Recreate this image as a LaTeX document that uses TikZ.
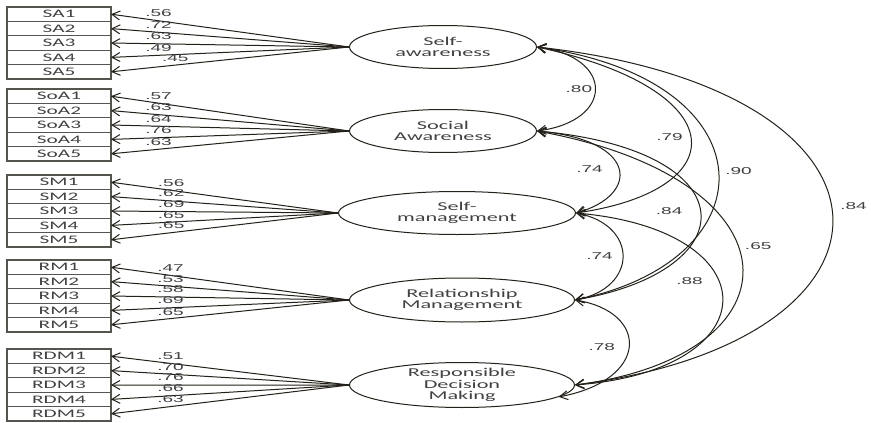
\documentclass[tikz,border=0pt]{standalone}
\usepackage{fontspec}
\setmainfont{Carlito}[FakeStretch=1.85]
\newfontfamily\numfont{Liberation Sans}[FakeStretch=1.9]
\usetikzlibrary{arrows.meta, positioning, shapes.geometric}
\definecolor{SemLine}{RGB}{35, 33, 25}
\definecolor{SemFrame}{RGB}{85, 85, 80}
\definecolor{SemText}{RGB}{65, 65, 65}
\tikzset{
  ind/.style={rectangle, draw=SemFrame, line width=1.2pt, fill=white,
              minimum width=104pt, minimum height=14.4pt, inner sep=0pt, outer sep=0pt,
              font=\fontsize{11.5}{11.5}\selectfont, text=SemText},
  lat/.style={ellipse, draw=SemLine, line width=1pt, minimum width=#1,
              minimum height=43pt, inner sep=0pt, align=center,
              font=\fontsize{12}{11.5}\selectfont, text=SemText},
  ld/.style={-{Straight Barb[length=8pt, width=9pt]}, line width=1pt, color=SemLine},
  cov/.style={{Straight Barb[length=8pt, width=9pt]}-{Straight Barb[length=8pt, width=9pt]},
              line width=1pt, color=SemLine},
  coef/.style={font={\numfont\fontsize{10}{10}\selectfont}, text=SemText, inner sep=1.5pt},
}
\begin{document}
\begin{tikzpicture}[x=1pt, y=-1pt]
  \useasboundingbox[fill=white] (0,0) rectangle (871,423);

  % indicators
  \node[ind, anchor=north] (sa1) at (59,7) {SA1};
  \node[ind, below=0pt of sa1] (sa2) {SA2};
  \node[ind, below=0pt of sa2] (sa3) {SA3};
  \node[ind, below=0pt of sa3] (sa4) {SA4};
  \node[ind, below=0pt of sa4] (sa5) {SA5};

  \node[ind, anchor=north] (soa1) at (59,89) {SoA1};
  \node[ind, below=0pt of soa1] (soa2) {SoA2};
  \node[ind, below=0pt of soa2] (soa3) {SoA3};
  \node[ind, below=0pt of soa3] (soa4) {SoA4};
  \node[ind, below=0pt of soa4] (soa5) {SoA5};

  \node[ind, anchor=north] (sm1) at (59,175) {SM1};
  \node[ind, below=0pt of sm1] (sm2) {SM2};
  \node[ind, below=0pt of sm2] (sm3) {SM3};
  \node[ind, below=0pt of sm3] (sm4) {SM4};
  \node[ind, below=0pt of sm4] (sm5) {SM5};

  \node[ind, anchor=north] (rm1) at (59,260) {RM1};
  \node[ind, below=0pt of rm1] (rm2) {RM2};
  \node[ind, below=0pt of rm2] (rm3) {RM3};
  \node[ind, below=0pt of rm3] (rm4) {RM4};
  \node[ind, below=0pt of rm4] (rm5) {RM5};

  \node[ind, anchor=north] (rdm1) at (59,349) {RDM1};
  \node[ind, below=0pt of rdm1] (rdm2) {RDM2};
  \node[ind, below=0pt of rdm2] (rdm3) {RDM3};
  \node[ind, below=0pt of rdm3] (rdm4) {RDM4};
  \node[ind, below=0pt of rdm4] (rdm5) {RDM5};

  % latent factors
  \node[lat=187pt] (selfaw) at (443,47)  {Self-\\awareness};
  \node[lat=187pt] (socaw)  at (443,131) {Social\\Awareness};
  \node[lat=237pt] (selfmg) at (457,213) {Self-\\management};
  \node[lat=225pt, minimum height=44pt] (relmg) at (462,300) {Relationship\\Management};
  \node[lat=225pt, minimum height=45pt, inner ysep=-2.5pt] (resdec) at (462,385)
       {Responsible\\Decision\\Making};

  % loadings
  \draw[ld] (selfaw.west) -- node[coef, pos=.8, above=2pt] {.56} (sa1.east);
  \draw[ld] (selfaw.west) -- node[coef, pos=.8, above=2pt] {.72} (sa2.east);
  \draw[ld] (selfaw.west) -- node[coef, pos=.8, above=2pt] {.63} (sa3.east);
  \draw[ld] (selfaw.west) -- node[coef, pos=.8, above=2pt] {.49} (sa4.east);
  \draw[ld] (selfaw.west) -- node[coef, pos=.73, above=2pt] {.45} (sa5.east);

  \draw[ld] (socaw.west) -- node[coef, pos=.8, above=2pt] {.57} (soa1.east);
  \draw[ld] (socaw.west) -- node[coef, pos=.8, above=2pt] {.63} (soa2.east);
  \draw[ld] (socaw.west) -- node[coef, pos=.8, above=2pt] {.64} (soa3.east);
  \draw[ld] (socaw.west) -- node[coef, pos=.8, above=2pt] {.76} (soa4.east);
  \draw[ld] (socaw.west) -- node[coef, pos=.8, above=2pt] {.63} (soa5.east);

  \draw[ld] (selfmg.west) -- node[coef, pos=.735, above=2pt] {.56} (sm1.east);
  \draw[ld] (selfmg.west) -- node[coef, pos=.735, above=2pt] {.62} (sm2.east);
  \draw[ld] (selfmg.west) -- node[coef, pos=.735, above=2pt] {.69} (sm3.east);
  \draw[ld] (selfmg.west) -- node[coef, pos=.735, above=2pt] {.65} (sm4.east);
  \draw[ld] (selfmg.west) -- node[coef, pos=.735, above=2pt] {.65} (sm5.east);

  \draw[ld] (relmg.west) -- node[coef, pos=.75, above=2pt] {.47} (rm1.east);
  \draw[ld] (relmg.west) -- node[coef, pos=.75, above=2pt] {.53} (rm2.east);
  \draw[ld] (relmg.west) -- node[coef, pos=.75, above=2pt] {.58} (rm3.east);
  \draw[ld] (relmg.west) -- node[coef, pos=.75, above=2pt] {.69} (rm4.east);
  \draw[ld] (relmg.west) -- node[coef, pos=.75, above=1pt] {.65} (rm5.east);

  \draw[ld] (resdec.west) -- node[coef, pos=.75, above=2pt] {.51} (rdm1.east);
  \draw[ld] (resdec.west) -- node[coef, pos=.75, above=2pt] {.70} (rdm2.east);
  \draw[ld] (resdec.west) -- node[coef, pos=.75, above=2pt] {.76} (rdm3.east);
  \draw[ld] (resdec.west) -- node[coef, pos=.75, above=2pt] {.66} (rdm4.east);
  \draw[ld] (resdec.west) -- node[coef, pos=.75, above=2pt] {.63} (rdm5.east);

  % correlations
  \draw[cov] (selfaw.east) .. controls +(77.5,10) and +(77.5,-10) .. node[coef, pos=.5, left=1pt] {.80} (socaw.east);
  \draw[cov] (socaw.east) .. controls +(102,9) and +(64,-18) .. node[coef, pos=.5, left=14pt] {.74} (selfmg.east);
  \draw[cov] (selfmg.east) .. controls +(62.5,12) and +(63.5,-12) .. node[coef, pos=.5, left=8pt] {.74} (relmg.east);
  \draw[cov] (relmg.east) .. controls +(74.5,12) and +(91,-17) .. node[coef, pos=.5, left=12pt] {.78} (resdec.-7);
  \draw[cov] (selfaw.east) .. controls +(198.5,43) and +(159.5,-23) .. node[coef, pos=.5, left=6pt] {.79} (selfmg.east);
  \draw[cov] (selfaw.east) .. controls +(235.5,33) and +(197.5,-40) .. node[coef, pos=.5, right=5pt] {.90} (relmg.east);
  \draw[cov] (selfaw.east) .. controls +(387.5,43) and +(349.5,-45) .. node[coef, pos=.48, right=7pt] {.84} (resdec.east);
  \draw[cov] (socaw.east) .. controls +(211.5,19) and +(173.5,-30) .. node[coef, pos=.5, left=16pt] {.84} (relmg.east);
  \draw[cov] (socaw.east) .. controls +(267.5,49) and +(229.5,-30) .. node[coef, pos=.44, right=5pt] {.65} (resdec.east);
  \draw[cov] (selfmg.east) .. controls +(195.5,17) and +(196.5,-15) .. node[coef, pos=.42, left=14pt] {.88} (resdec.east);
\end{tikzpicture}
\end{document}
